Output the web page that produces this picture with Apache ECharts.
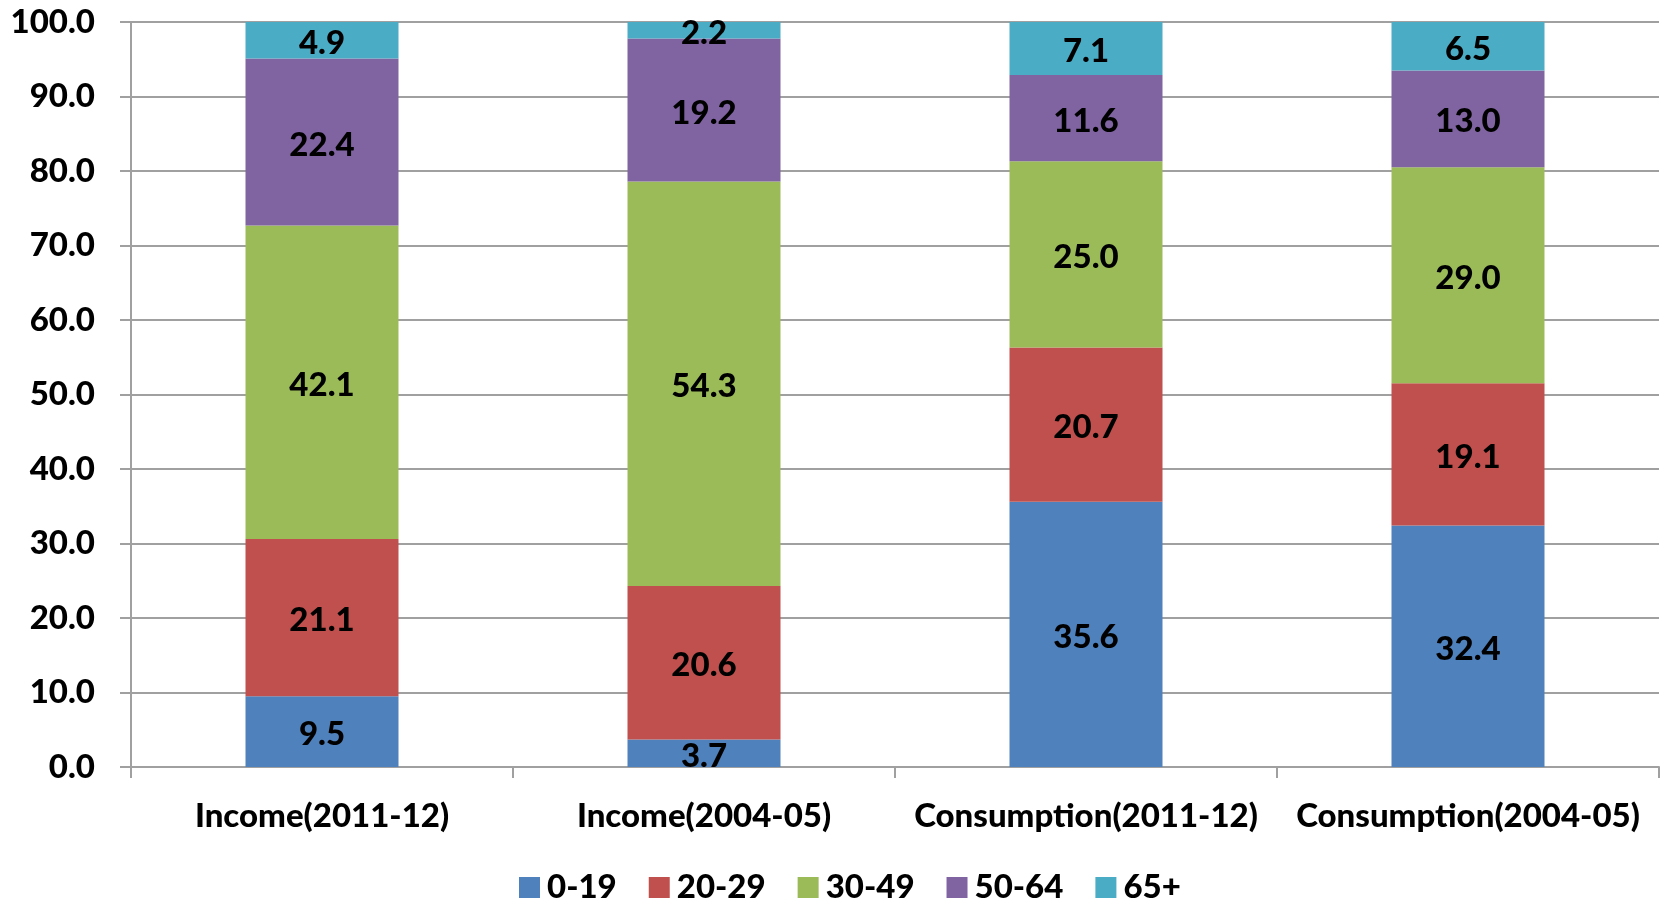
<!DOCTYPE html>
<html>
<head>
<meta charset="utf-8">
<script src="https://cdn.jsdelivr.net/npm/echarts@6/dist/echarts.min.js"></script>
<style>html,body{margin:0;padding:0;background:#fff;}#c{width:1663px;height:899px;}</style>
</head>
<body>
<div id="c"></div>
<script>
const categories = ['Income(2011-12)', 'Income(2004-05)', 'Consumption(2011-12)', 'Consumption(2004-05)'];
const seriesNames = ['0-19', '20-29', '30-49', '50-64', '65+'];
const age0_19 = [9.5, 3.7, 35.6, 32.4];
const age20_29 = [21.1, 20.6, 20.7, 19.1];
const age30_49 = [42.1, 54.3, 25.0, 29.0];
const age50_64 = [22.4, 19.2, 11.6, 13.0];
const age65plus = [4.9, 2.2, 7.1, 6.5];
const colors = ['#4F81BD', '#C0504D', '#9BBB59', '#8064A2', '#4BACC6'];
const seriesData = [age0_19, age20_29, age30_49, age50_64, age65plus];

const FONT = 'Lato';
const W = 900;
const chart = echarts.init(document.getElementById('c'));
chart.setOption({
  animation: false,
  color: colors,
  textStyle: { fontFamily: FONT },
  grid: { left: 131, right: 4, top: 22, bottom: 132 },
  legend: {
    left: 514, top: 866,
    itemWidth: 21, itemHeight: 21, itemGap: 32,
    icon: 'rect',
    textStyle: { fontFamily: FONT, fontWeight: W, fontSize: 33, color: '#000', padding: [0, 0, 0, 2] },
    data: seriesNames
  },
  xAxis: {
    type: 'category',
    data: categories,
    axisLine: { lineStyle: { color: '#a0a0a0', width: 2 } },
    axisTick: { show: true, length: 11, lineStyle: { color: '#a0a0a0', width: 2 } },
    axisLabel: { fontFamily: FONT, fontWeight: W, fontSize: 33, color: '#000', margin: 33, interval: 0 }
  },
  yAxis: {
    type: 'value', min: 0, max: 100, interval: 10,
    axisLine: { show: true, lineStyle: { color: '#a0a0a0', width: 2 } },
    axisTick: { show: true, length: 11, lineStyle: { color: '#a0a0a0', width: 2 } },
    splitLine: { lineStyle: { color: '#a0a0a0', width: 2 } },
    axisLabel: { fontFamily: FONT, fontWeight: W, fontSize: 33, color: '#000', margin: 36,
      formatter: v => v.toFixed(1) }
  },
  series: seriesNames.map((name, i) => ({
    name, type: 'bar', stack: 'total', barWidth: 153,
    data: seriesData[i],
    label: { show: true, position: 'inside', offset: [0, 3], fontFamily: FONT, fontWeight: W, fontSize: 33, color: '#000',
      formatter: p => p.value.toFixed(1) }
  }))
});
</script>
</body>
</html>
